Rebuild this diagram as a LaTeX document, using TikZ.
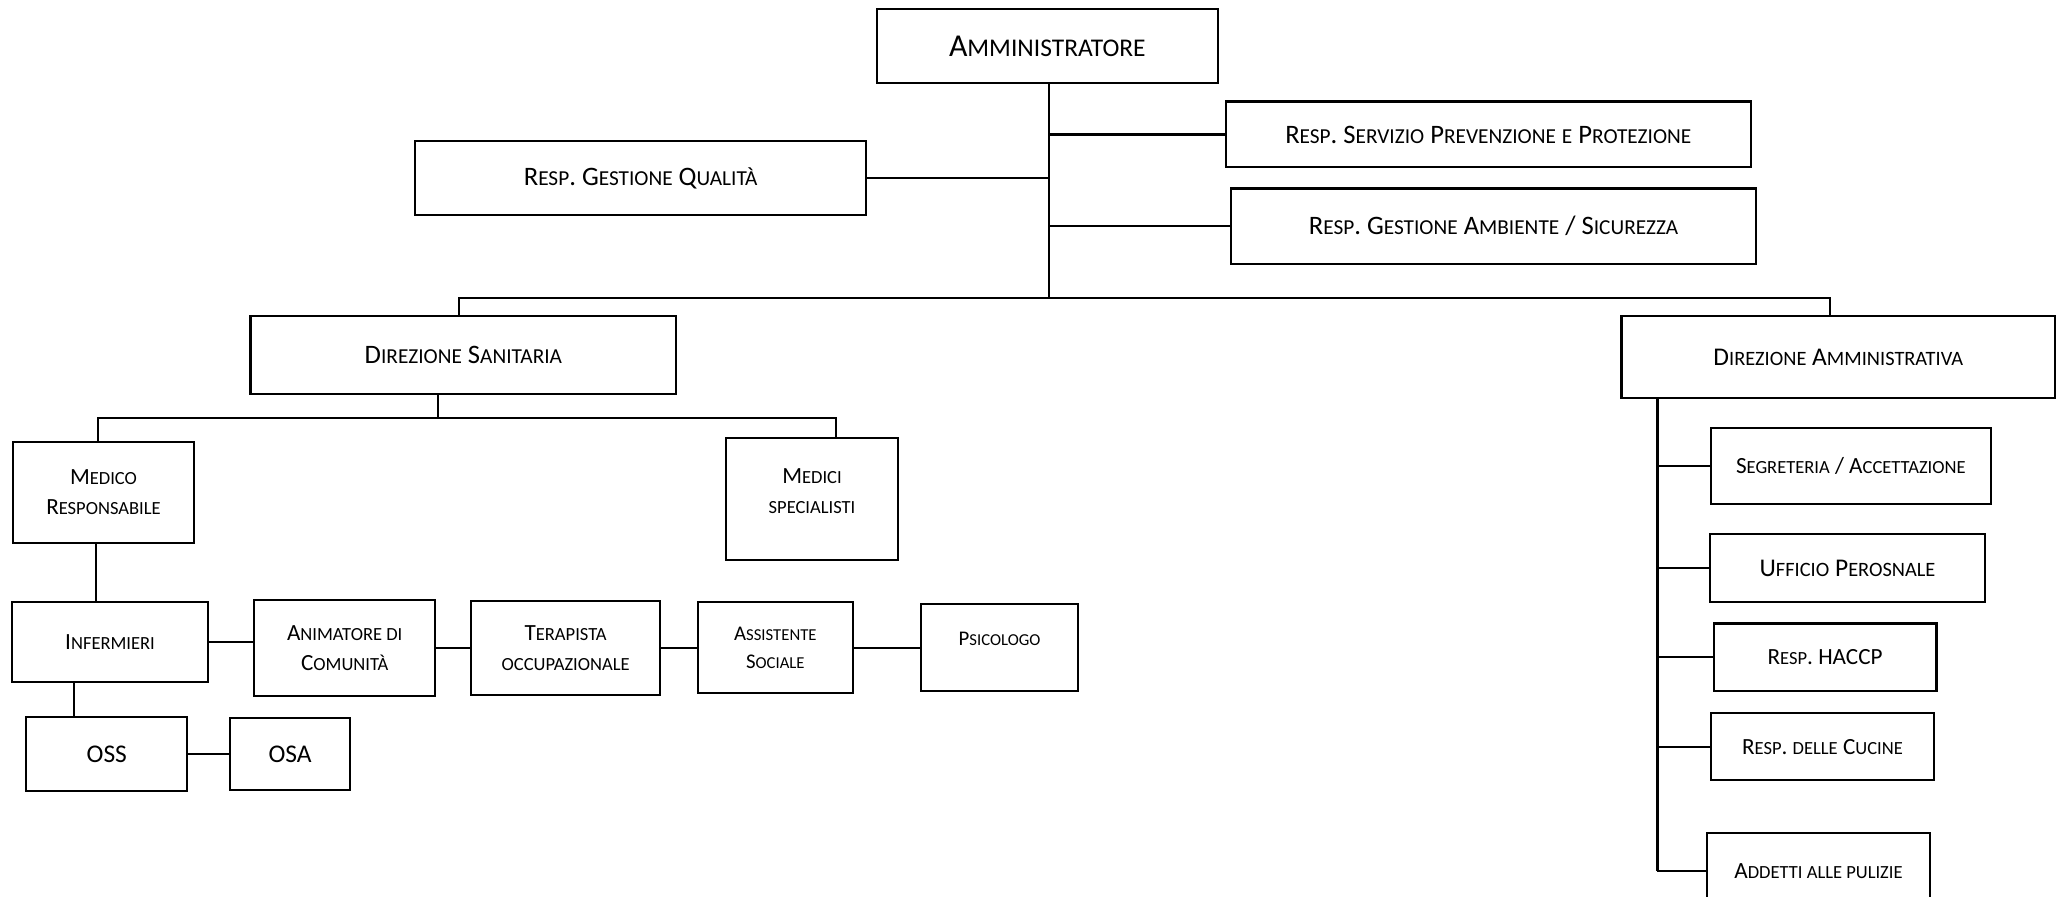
\documentclass[tikz,border=0pt]{standalone}
\usepackage{fontspec}
\setmainfont[Ligatures=NoCommon]{Carlito}
\usetikzlibrary{positioning,calc}
\def\px{0.02cm}
\def\LineW{0.9pt}
% maiuscoletto finto (Carlito non ha smcp)
\makeatletter
\newcommand\pk[1]{{\dimen@=\f@size pt\dimen@=0.8\dimen@
	\fontsize{\strip@pt\dimen@}{\f@baselineskip}\selectfont\MakeUppercase{#1}}}
\makeatother
\tikzset{
	ufficio/.style 2 args={draw, line width=\LineW, align=center, inner sep=1pt,
		minimum width=#1*\px, minimum height=#2*\px,
		font=\fontsize{10}{13}\selectfont},
	grande/.style={font=\fontsize{13.75}{16}\selectfont},
	alto/.style={font=\fontsize{11.5}{14}\selectfont},
	medio/.style={font=\fontsize{11}{13.5}\selectfont},
	piccolo/.style={font=\fontsize{9}{12}\selectfont},
	filo/.style={line width=\LineW},
}

\begin{document}
\begin{tikzpicture}[x=\px,y=-\px]
	\useasboundingbox (0,0) rectangle (1568,680);
	% vertice
	\node[ufficio={259}{56},grande] (admin) at (794.5,35) {A\pk{mministratore}};
	\node[ufficio={342}{56},alto] (qual) at (486,135) {R\pk{esp}. G\pk{estione} Q\pk{ualità}};
	\node[ufficio={398}{50},alto] (rspp) at (1129,102) {R\pk{esp}. S\pk{ervizio} P\pk{revenzione} \pk{e} P\pk{rotezione}};
	\node[ufficio={398}{57},alto] (amb) at (1133,171.5) {R\pk{esp}. G\pk{estione} A\pk{mbiente} / S\pk{icurezza}};
	\node[ufficio={323}{59},alto] (dirS) at (351.5,269.5) {D\pk{irezione} S\pk{anitaria}};
	\node[ufficio={329}{62},medio] (dirA) at (1394.5,271) {D\pk{irezione} A\pk{mministrativa}};
	% 
	\node[ufficio={137}{77}] (medR) at (78.5,373.5) {M\pk{edico}\\R\pk{esponsabile}};
	\node[ufficio={130}{93}] (medS) at (616,378.5) {M\pk{edici}\\\pk{specialisti}\\[-6pt]};
	\node[ufficio={149}{60}] (inf) at (83.5,487) {I\pk{nfermieri}};
	\node[ufficio={137}{73}] (anim) at (261.5,491.5) {A\pk{nimatore di}\\C\pk{omunità}};
	\node[ufficio={143}{71},right=0.52cm of anim] (ter) {T\pk{erapista}\\\pk{occupazionale}};
	\node[ufficio={118}{69},piccolo,right=0.54cm of ter] (ass) {A\pk{ssistente}\\S\pk{ociale}};
	\node[ufficio={119}{66},piccolo,right=1cm of ass] (psi) {P\pk{sicologo}\\[-4pt]};
	\node[ufficio={122}{56},medio] (oss) at (81,572) {OSS};
	\node[ufficio={91}{55},medio,right=0.62cm of oss] (osa) {OSA};
	% 
	\node[ufficio={212}{57}] (seg) at (1404,353.5) {S\pk{egreteria} / A\pk{ccettazione}};
	\node[ufficio={209}{52},medio] (uff) at (1401.5,431) {U\pk{fficio} P\pk{erosnale}};
	\node[ufficio={169}{51}] (haccp) at (1384.5,498.5) {R\pk{esp}. HACCP};
	\node[ufficio={169}{51}] (cuc) at (1382.5,566.5) {R\pk{esp}. \pk{delle} C\pk{ucine}};
	\node[ufficio={169}{57}] (pul) at (1379.5,660.5) {A\pk{ddetti alle pulizie}};
	% 
	\coordinate (bar) at (796,226);
	\coordinate (sbar) at ($(dirS.south west)!0.44!(dirS.south east)+(0,17)$);
	\coordinate (atop) at ($(dirA.south west)!0.085!(dirA.south east)$);
	\coordinate (abot) at (atop |- pul.west);
	% 
	\draw[filo] (admin.south -| bar) -- (bar);
	\draw[filo] (qual.east) -- (qual.east -| bar);
	\draw[filo] (rspp.west) -- (rspp.west -| bar);
	\draw[filo] (amb.west) -- (amb.west -| bar);
	\draw[filo] ($(dirS.north west)!0.49!(dirS.north east)$) |- (bar)
		-| ($(dirA.north west)!0.48!(dirA.north east)$);
	% 
	\draw[filo] (sbar |- dirS.south) -- (sbar);
	\draw[filo] ($(medR.north west)!0.47!(medR.north east)$) |- (sbar)
		-| ($(medS.north west)!0.64!(medS.north east)$);
	\draw[filo] ($(medR.south west)!0.46!(medR.south east)$) -- ++(0,45);
	\draw[filo] (inf.east) -- (inf.east -| anim.west);
	\draw[filo] (anim.east) -- (ter.west);
	\draw[filo] (ter.east) -- (ass.west);
	\draw[filo] (ass.east) -- (psi.west);
	\draw[filo] ($(inf.south west)!0.32!(inf.south east)$) -- ++(0,27);
	\draw[filo] (oss.east) -- (oss.east -| osa.west);
	% 
	\draw[filo] (atop) -- (abot);
	\draw[filo] (seg.west -| atop) -- (seg.west);
	\draw[filo] (uff.west -| atop) -- (uff.west);
	\draw[filo] (haccp.west -| atop) -- (haccp.west);
	\draw[filo] (cuc.west -| atop) -- (cuc.west);
	\draw[filo] (abot) -- (pul.west);
\end{tikzpicture}
\end{document}
